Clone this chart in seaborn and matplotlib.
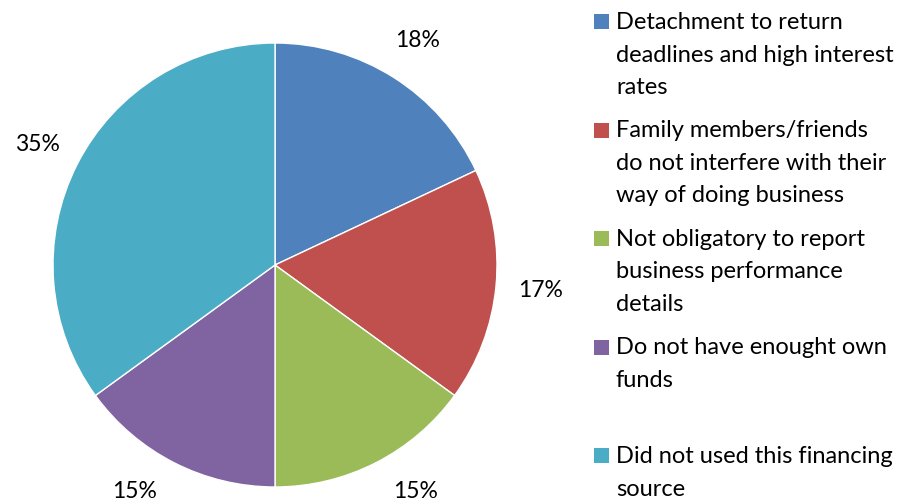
import matplotlib
matplotlib.use("Agg")
import matplotlib.pyplot as plt
import matplotlib.patches as mpatches
import numpy as np
import seaborn as sns

# Data
categories = [
    "Detachment to return\ndeadlines and high interest\nrates",
    "Family members/friends\ndo not interfere with their\nway of doing business",
    "Not obligatory to report\nbusiness performance\ndetails",
    "Do not have enought own\nfunds",
    "Did not used this financing\nsource",
]
shares = [18, 17, 15, 15, 35]
colors = ["#4F81BD", "#C0504D", "#9BBB59", "#8064A2", "#4BACC6"]

sns.set_theme(style="white")
plt.rcParams["font.family"] = ["Lato", "DejaVu Sans"]

W, H = 912, 504
fig = plt.figure(figsize=(W / 100, H / 100), dpi=100)

# Pie: centre (275, 265) px, radius 222 px
cx, cy, r = 275, 265, 222
ax = fig.add_axes([(cx - r) / W, (H - cy - r) / H, 2 * r / W, 2 * r / H])
palette = sns.color_palette(colors)
label_dist = 1.2
wedges, texts, autotexts = ax.pie(
    shares,
    colors=palette,
    startangle=90,
    counterclock=False,
    autopct="%1.0f%%",
    pctdistance=label_dist,
    wedgeprops=dict(edgecolor="white", linewidth=1),
    textprops=dict(fontsize=16.5, color="black"),
)
# keep the labels at the bottom inside the picture, sliding them along the circle
ymin = -1.02
for t in autotexts:
    x, y = t.get_position()
    if y < ymin:
        t.set_position((np.sign(x) * np.sqrt(label_dist ** 2 - ymin ** 2), ymin))
ax.set_xlim(-1, 1)
ax.set_ylim(-1, 1)
ax.set_aspect("equal")
ax.axis("off")

# Legend drawn by hand so the markers line up with the first text line
x_mark, x_text = 594, 616
for i, (lab, col) in enumerate(zip(categories, palette)):
    base = 29 + 108.5 * i
    fig.patches.append(mpatches.Rectangle(
        (x_mark / W, 1 - (base - 15) / H), 15 / W, -15 / H,
        transform=fig.transFigure, facecolor=col, edgecolor="none"))
    for j, line in enumerate(lab.split("\n")):
        fig.text(x_text / W, 1 - (base + 32.5 * j) / H, line,
                 fontsize=17, va="baseline", ha="left", color="black")

fig.savefig("out.png", dpi=100)
